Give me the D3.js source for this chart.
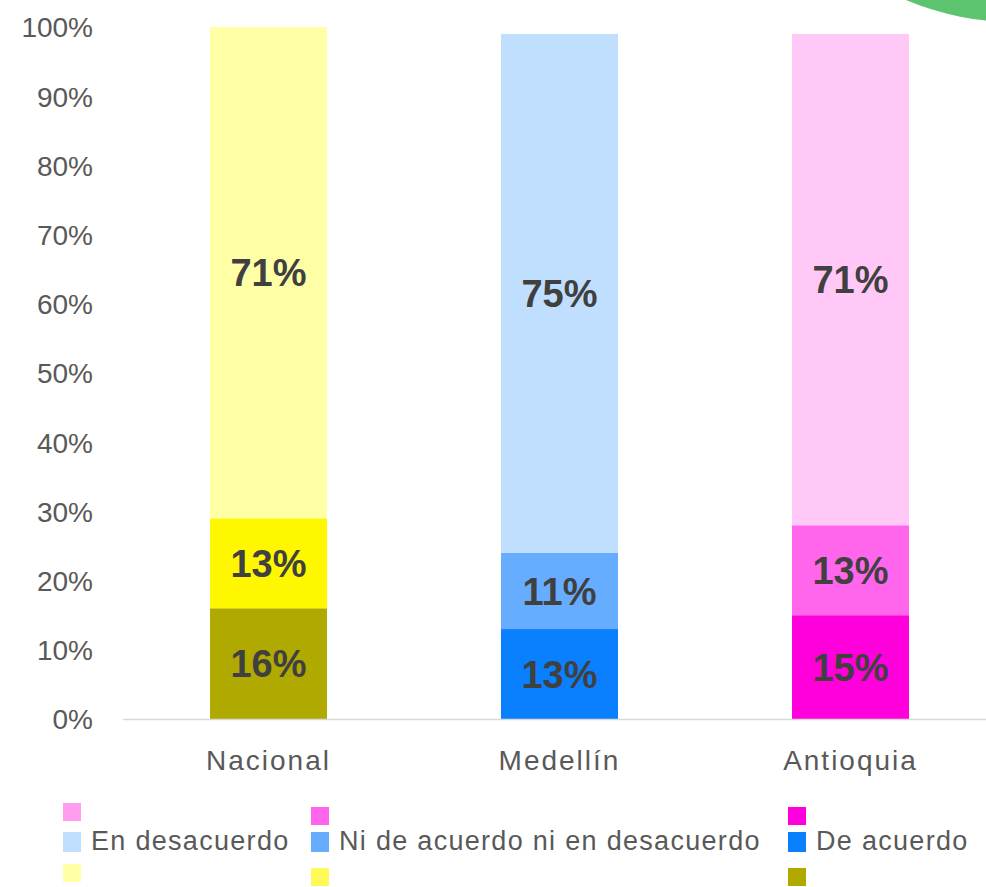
<!DOCTYPE html>
<html>
<head>
<meta charset="utf-8">
<script src="https://cdn.jsdelivr.net/npm/d3@7"></script>
<style>
  html, body { margin: 0; padding: 0; background: #ffffff; }
  svg { display: block; font-family: "Liberation Sans", Arial, sans-serif; }
</style>
</head>
<body>
<svg id="chart" width="986" height="887"></svg>
<script>
// Regions shown on the x axis
const categories = ["Nacional", "Medellín", "Antioquia"];

// Share of answers per region (percent), bottom to top of each bar
const deAcuerdo = [16, 13, 15];
const niNi = [13, 11, 13];
const enDesacuerdo = [71, 75, 71];

const seriesNames = ["De acuerdo", "Ni de acuerdo ni en desacuerdo", "En desacuerdo"];

// Each region has its own colour family: dark, medium, light
const barColors = {
  "Nacional":  ["#b0aa00", "#fff700", "#ffffa6"],
  "Medellín":  ["#0a80ff", "#66acff", "#c0dfff"],
  "Antioquia": ["#ff00dc", "#ff66ec", "#ffc8f6"]
};

// Legend swatches: per series, top (Antioquia), middle (Medellín), bottom (Nacional)
const legendOrder = ["En desacuerdo", "Ni de acuerdo ni en desacuerdo", "De acuerdo"];
const legendSwatches = [
  ["#ff9cee", "#c0dfff", "#ffffa6"],
  ["#ff66ec", "#66acff", "#fff95a"],
  ["#ff00dc", "#0a80ff", "#b0aa00"]
];

const yTicks = [0, 10, 20, 30, 40, 50, 60, 70, 80, 90, 100];

const svg = d3.select("#chart");
const W = 986, H = 887;

svg.append("rect").attr("width", W).attr("height", H).attr("fill", "#ffffff");

// Decorative green disc peeking in at the top-right corner
svg.append("circle")
  .attr("cx", 1014).attr("cy", -254).attr("r", 276)
  .attr("fill", "#5cc46e");

const plot = { left: 123, right: 996, top: 27, bottom: 719 };

const x = d3.scaleBand()
  .domain(categories)
  .range([plot.left, plot.right])
  .paddingInner(0.598)
  .paddingOuter(0.299);

const y = d3.scaleLinear()
  .domain([0, 100])
  .range([plot.bottom, plot.top]);

// Stack the three answer groups
const rows = categories.map((c, i) => ({
  cat: c,
  "De acuerdo": deAcuerdo[i],
  "Ni de acuerdo ni en desacuerdo": niNi[i],
  "En desacuerdo": enDesacuerdo[i]
}));
const stacked = d3.stack().keys(seriesNames)(rows);

// Y axis labels
const yAxis = d3.axisLeft(y)
  .tickValues(yTicks)
  .tickFormat(d => d + "%")
  .tickSize(0)
  .tickPadding(0);

const yg = svg.append("g")
  .attr("transform", `translate(${93},0)`)
  .call(yAxis);
yg.select(".domain").remove();
yg.selectAll("text")
  .attr("fill", "#595959")
  .style("font-size", "28px")
  .attr("dy", "0.35em");

// Bars
stacked.forEach((layer, si) => {
  svg.append("g")
    .selectAll("rect")
    .data(layer)
    .join("rect")
    .attr("x", d => x(d.data.cat))
    .attr("width", x.bandwidth())
    .attr("y", d => y(d[1]))
    .attr("height", d => y(d[0]) - y(d[1]))
    .attr("fill", d => barColors[d.data.cat][si]);
});

// Value labels centred in each segment
stacked.forEach(layer => {
  svg.append("g")
    .selectAll("text")
    .data(layer)
    .join("text")
    .attr("x", d => x(d.data.cat) + x.bandwidth() / 2)
    .attr("y", d => y((d[0] + d[1]) / 2))
    .attr("dy", "0.36em")
    .attr("text-anchor", "middle")
    .attr("fill", "#404040")
    .style("font-size", "38px")
    .style("font-weight", "bold")
    .text(d => Math.round(d[1] - d[0]) + "%");
});

// Baseline
svg.append("line")
  .attr("x1", plot.left).attr("x2", W)
  .attr("y1", y(0) + 0.5).attr("y2", y(0) + 0.5)
  .attr("stroke", "#d9d9d9").attr("stroke-width", 1.5);

// Category labels
const xAxis = d3.axisBottom(x).tickSize(0).tickPadding(0);
const xg = svg.append("g")
  .attr("transform", `translate(0,${770})`)
  .call(xAxis);
xg.select(".domain").remove();
xg.selectAll("text")
  .attr("dy", 0)
  .attr("fill", "#595959")
  .style("font-size", "28px")
  .style("letter-spacing", "2px")
  .style("font-family", "\"Liberation Sans\", Arial, sans-serif");

// Legend: three entries, each with a column of three swatches
const legendX = [63, 311, 788];
const swatchW = 18, swatchH = 18;
const lg = svg.append("g");
legendOrder.forEach((name, i) => {
  const gx = legendX[i];
  const g = lg.append("g");
  const ys = [803 + (i > 0 ? 4 : 0), 832, 864 + (i > 0 ? 4 : 0)];
  legendSwatches[i].forEach((col, k) => {
    g.append("rect")
      .attr("x", gx).attr("y", ys[k])
      .attr("width", swatchW).attr("height", k === 1 ? 20 : swatchH)
      .attr("fill", col);
  });
  g.append("text")
    .attr("x", gx + 28)
    .attr("y", 850)
    .attr("fill", "#595959")
    .style("font-size", "27px")
    .style("letter-spacing", "1.3px")
    .text(name);
});
</script>
</body>
</html>
